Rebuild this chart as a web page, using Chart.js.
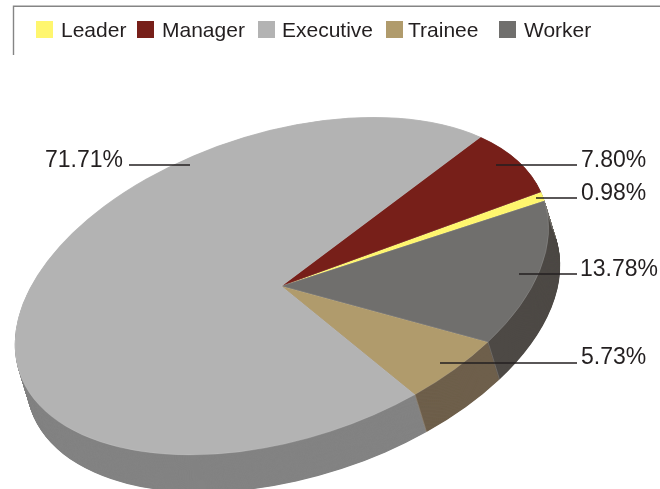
<!DOCTYPE html>
<html>
<head>
<meta charset="utf-8">
<style>html,body{margin:0;padding:0;background:#fff}canvas{display:block}</style>
<script src="https://cdn.jsdelivr.net/npm/chart.js@4"></script>
</head>
<body>
<canvas id="c" width="660" height="489"></canvas>
<script>
const categories = ['Leader', 'Manager', 'Executive', 'Trainee', 'Worker'];
const shares = [0.98, 7.80, 71.71, 5.73, 13.78];
const topColors = ['#fff66e', '#771f19', '#b3b3b3', '#b09b6c', '#706f6d'];
const sideColors = ['#8f8a40', '#4a1410', '#838383', '#6e5f4b', '#4d4945'];

const INK = '#231f20';
const FONT = '"Liberation Sans", Arial, sans-serif';
// Oblique projection of the pie disc on to the page
const tilt = { cx: 281.7, cy: 286, xx: 267, xy: -58, yy: -158.7, ex: 11.5, ey: 37.5 };
// Legend item layout: swatch x, text x
const legendSwatchX = [36, 137, 258, 386, 499];
const legendTextX = [61, 162, 282, 408, 524];
// Callout layout: line x1, x2, line y, text x, baseline y
const calloutLine = [[536, 577, 197.6], [496, 577, 164.6], [129, 190, 164.6], [440, 577, 362.6], [519, 577, 273.6]];
const calloutText = [[581, 199.5], [581, 166.5], [45, 166.5], [581, 364], [580, 275.5]];

function applyTilt(ctx, arc) {
  const R = arc.outerRadius, a = tilt.xx / R, b = tilt.xy / R, d = tilt.yy / R;
  ctx.transform(a, b, 0, d, tilt.cx - a * arc.x, tilt.cy - b * arc.x - d * arc.y);
}

const tiltPlugin = {
  id: 'tilt',
  beforeDatasetsDraw(chart) {
    const ctx = chart.ctx, arcs = chart.getDatasetMeta(0).data;
    const steps = 76;
    for (let k = steps; k > 0; k--) {
      ctx.save();
      ctx.translate(tilt.ex * k / steps, tilt.ey * k / steps);
      applyTilt(ctx, arcs[0]);
      arcs.forEach((arc, i) => {
        ctx.beginPath();
        ctx.moveTo(arc.x, arc.y);
        ctx.arc(arc.x, arc.y, arc.outerRadius, arc.startAngle, arc.endAngle);
        ctx.closePath();
        ctx.fillStyle = sideColors[i];
        ctx.fill();
      });
      ctx.restore();
    }
    // faint seams between side panels
    arcs.forEach(arc => {
      ctx.save();
      applyTilt(ctx, arc);
      const m = ctx.getTransform();
      ctx.restore();
      const p = m.transformPoint(new DOMPoint(
        arc.x + arc.outerRadius * Math.cos(arc.endAngle),
        arc.y + arc.outerRadius * Math.sin(arc.endAngle)));
      ctx.save();
      ctx.strokeStyle = 'rgba(255,255,255,0.22)';
      ctx.lineWidth = 0.8;
      ctx.beginPath();
      ctx.moveTo(p.x, p.y);
      ctx.lineTo(p.x + tilt.ex, p.y + tilt.ey);
      ctx.stroke();
      ctx.restore();
    });
    ctx.save();
    applyTilt(ctx, arcs[0]);
  },
  afterDatasetsDraw(chart) {
    chart.ctx.restore();
  },
  afterDraw(chart) {
    const ctx = chart.ctx;
    ctx.save();
    // legend frame
    ctx.strokeStyle = '#858585';
    ctx.lineWidth = 1.4;
    ctx.beginPath();
    ctx.moveTo(13.5, 55);
    ctx.lineTo(13.5, 6.3);
    ctx.lineTo(660, 6.3);
    ctx.stroke();
    // legend
    ctx.textBaseline = 'alphabetic';
    ctx.textAlign = 'left';
    ctx.font = '21px ' + FONT;
    chart.data.labels.forEach((name, i) => {
      ctx.fillStyle = chart.data.datasets[0].backgroundColor[i];
      ctx.fillRect(legendSwatchX[i], 21, 17, 17);
      ctx.fillStyle = INK;
      ctx.fillText(name, legendTextX[i], 37);
    });
    // callouts
    ctx.font = '23px ' + FONT;
    chart.data.datasets[0].data.forEach((v, i) => {
      const [x1, x2, y] = calloutLine[i];
      ctx.strokeStyle = INK;
      ctx.lineWidth = 1.5;
      ctx.beginPath();
      ctx.moveTo(x1, y + 0.5);
      ctx.lineTo(x2, y + 0.5);
      ctx.stroke();
      ctx.fillStyle = INK;
      ctx.fillText(v.toFixed(2) + '%', calloutText[i][0], calloutText[i][1]);
    });
    ctx.restore();
  }
};

new Chart(document.getElementById('c'), {
  type: 'pie',
  data: {
    labels: categories,
    datasets: [{
      data: shares,
      backgroundColor: topColors,
      borderColor: 'rgba(255,255,255,0.22)',
      borderWidth: 0.6,
      hoverOffset: 0,
      clip: false
    }]
  },
  options: {
    responsive: false,
    animation: false,
    rotation: 100.2,
    layout: { padding: 0 },
    plugins: { legend: { display: false }, tooltip: { enabled: false } }
  },
  plugins: [tiltPlugin]
});
</script>
</body>
</html>
